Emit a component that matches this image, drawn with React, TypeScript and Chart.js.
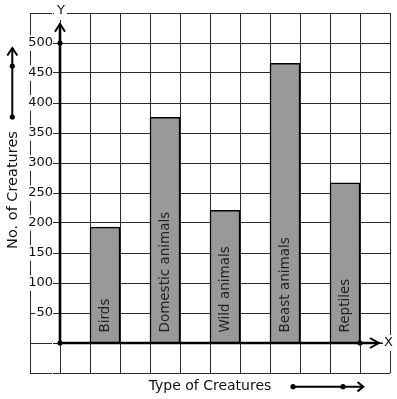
import React, { useEffect, useRef } from 'react';
import { Chart, registerables } from 'chart.js';

Chart.register(...registerables);

// ---- data ----
const categories = ['Birds', 'Domestic animals', 'Wild animals', 'Beast animals', 'Reptiles'];
const barSlots = [1.5, 3.5, 5.5, 7.5, 9.5];
const creatureCounts = [193, 376, 221, 466, 267];
const yTickValues = [50, 100, 150, 200, 250, 300, 350, 400, 450, 500];
const yTickLabels = ['50', '100', '150', '200', '250', '300', '350', '400', '450', '500'];
const xTitle = 'Type of Creatures';
const yTitle = 'No. of Creatures';
const xAxisName = 'X';
const yAxisName = 'Y';
const yDotValue = 500;
const xDotValue = 10;
const yArrowTip = 532;
const xArrowTip = 10.63;
const yLabelAnchor = -7 / 30;

const FONT = '"DejaVu Sans", Verdana, sans-serif';
const INK = '#111';

function dot(ctx: CanvasRenderingContext2D, x: number, y: number, r = 2.6) {
  ctx.beginPath();
  ctx.arc(x, y, r, 0, Math.PI * 2);
  ctx.fill();
}

const overlay = {
  id: 'overlay',
  afterDraw(chart: any) {
    const ctx: CanvasRenderingContext2D = chart.ctx;
    const xs = chart.scales.x;
    const ys = chart.scales.y;
    const area = chart.chartArea;
    const ox = xs.getPixelForValue(0);
    const oy = ys.getPixelForValue(0);
    ctx.save();

    // bar labels
    const meta = chart.getDatasetMeta(0);
    ctx.fillStyle = '#222';
    ctx.font = `13.5px ${FONT}`;
    meta.data.forEach((bar: any, i: number) => {
      ctx.save();
      ctx.translate(bar.x + 3.5, oy - 10.5);
      ctx.rotate(-Math.PI / 2);
      ctx.textAlign = 'left';
      ctx.textBaseline = 'alphabetic';
      ctx.fillText(categories[i], 0, 0);
      ctx.restore();
    });

    // main axes
    ctx.strokeStyle = '#000';
    ctx.fillStyle = '#000';
    ctx.lineCap = 'butt';
    const yTip = ys.getPixelForValue(yArrowTip);
    const xTip = xs.getPixelForValue(xArrowTip);
    ctx.lineWidth = 2.6;
    ctx.beginPath();
    ctx.moveTo(ox, oy);
    ctx.lineTo(ox, yTip + 1);
    ctx.stroke();
    ctx.beginPath();
    ctx.moveTo(ox, oy);
    ctx.lineTo(xTip - 1, oy);
    ctx.stroke();
    ctx.lineWidth = 2;
    ctx.beginPath();
    ctx.moveTo(ox - 5, yTip + 8);
    ctx.lineTo(ox, yTip);
    ctx.lineTo(ox + 5, yTip + 8);
    ctx.stroke();
    ctx.beginPath();
    ctx.moveTo(xTip - 9, oy - 5);
    ctx.lineTo(xTip, oy);
    ctx.lineTo(xTip - 9, oy + 5);
    ctx.stroke();
    ctx.lineWidth = 1;
    ctx.beginPath();
    ctx.moveTo(xTip, oy);
    ctx.lineTo(xTip + 4, oy);
    ctx.stroke();

    dot(ctx, ox, oy);
    dot(ctx, ox, ys.getPixelForValue(yDotValue));
    dot(ctx, xs.getPixelForValue(xDotValue), oy);

    // axis names with white backdrop
    ctx.fillStyle = '#fff';
    ctx.fillRect(ox - 6, area.top - 9, 13, 16);
    ctx.fillRect(xTip + 4, oy - 8, 12, 16);
    ctx.fillStyle = INK;
    ctx.font = `13px ${FONT}`;
    ctx.textAlign = 'center';
    ctx.textBaseline = 'middle';
    ctx.fillText(yAxisName, ox + 1, area.top - 2.5);
    ctx.fillText(xAxisName, xTip + 9.5, oy);

    // titles
    ctx.font = `14px ${FONT}`;
    ctx.textBaseline = 'alphabetic';
    ctx.fillText(xTitle, (area.left + area.right) / 2, area.bottom + 17);
    ctx.save();
    ctx.font = `14.5px ${FONT}`;
    ctx.translate(17.3, 190);
    ctx.rotate(-Math.PI / 2);
    ctx.fillText(yTitle, 0, 0);
    ctx.restore();

    // decorative arrows beside titles
    ctx.strokeStyle = '#000';
    ctx.fillStyle = '#000';
    ctx.lineWidth = 2;
    ctx.beginPath();
    ctx.moveTo(12.3, 117);
    ctx.lineTo(12.3, 48);
    ctx.stroke();
    ctx.beginPath();
    ctx.moveTo(7.3, 55.5);
    ctx.lineTo(12.3, 48);
    ctx.lineTo(17.3, 55.5);
    ctx.stroke();
    dot(ctx, 12.3, 117);
    dot(ctx, 12.3, 66);
    ctx.beginPath();
    ctx.moveTo(293, 386.7);
    ctx.lineTo(363, 386.7);
    ctx.stroke();
    ctx.beginPath();
    ctx.moveTo(357.5, 382);
    ctx.lineTo(363.3, 386.7);
    ctx.lineTo(357.5, 391.4);
    ctx.stroke();
    dot(ctx, 293, 386.7);
    dot(ctx, 343, 386.7);

    ctx.restore();
  },
};

export default function App() {
  const ref = useRef<HTMLCanvasElement | null>(null);
  useEffect(() => {
    document.body.style.margin = '0';
    const canvas = ref.current;
    if (!canvas) return;
    Chart.defaults.font.family = FONT;
    const chart = new Chart(canvas, {
      type: 'bar',
      data: {
        datasets: [
          {
            data: barSlots.map((x, i) => ({ x, y: creatureCounts[i] })),
            backgroundColor: '#999999',
            borderColor: '#000',
            borderWidth: 1.5,
            categoryPercentage: 1,
            barPercentage: 1,
          },
        ],
      },
      options: {
        responsive: false,
        animation: false,
        events: [],
        layout: { padding: { left: 30, right: 7, top: 13, bottom: 26 } },
        plugins: { legend: { display: false }, tooltip: { enabled: false } },
        scales: {
          x: {
            type: 'linear',
            min: -1,
            max: 11,
            offset: false,
            ticks: { display: false, stepSize: 1 },
            grid: { color: '#2a2a2a', lineWidth: 1, drawTicks: false, offset: false },
            border: { display: false },
          },
          y: {
            type: 'linear',
            min: -50,
            max: 550,
            position: { x: yLabelAnchor },
            z: 1,
            ticks: {
              stepSize: 50,
              padding: 0,
              color: INK,
              font: { size: 13, family: FONT },
              showLabelBackdrop: true,
              backdropColor: '#ffffff',
              backdropPadding: { top: 0, bottom: 0, left: 1, right: 0 },
              callback: (v: any) => {
                const idx = yTickValues.indexOf(Number(v));
                return idx >= 0 ? yTickLabels[idx] : '';
              },
            },
            grid: { color: '#2a2a2a', lineWidth: 1, drawTicks: false },
            border: { display: false },
          },
        },
      },
      plugins: [overlay],
    } as any);
    return () => chart.destroy();
  }, []);
  return (
    <canvas
      ref={ref}
      width={397}
      height={399}
      style={{ display: 'block', width: 397, height: 399 }}
    />
  );
}
